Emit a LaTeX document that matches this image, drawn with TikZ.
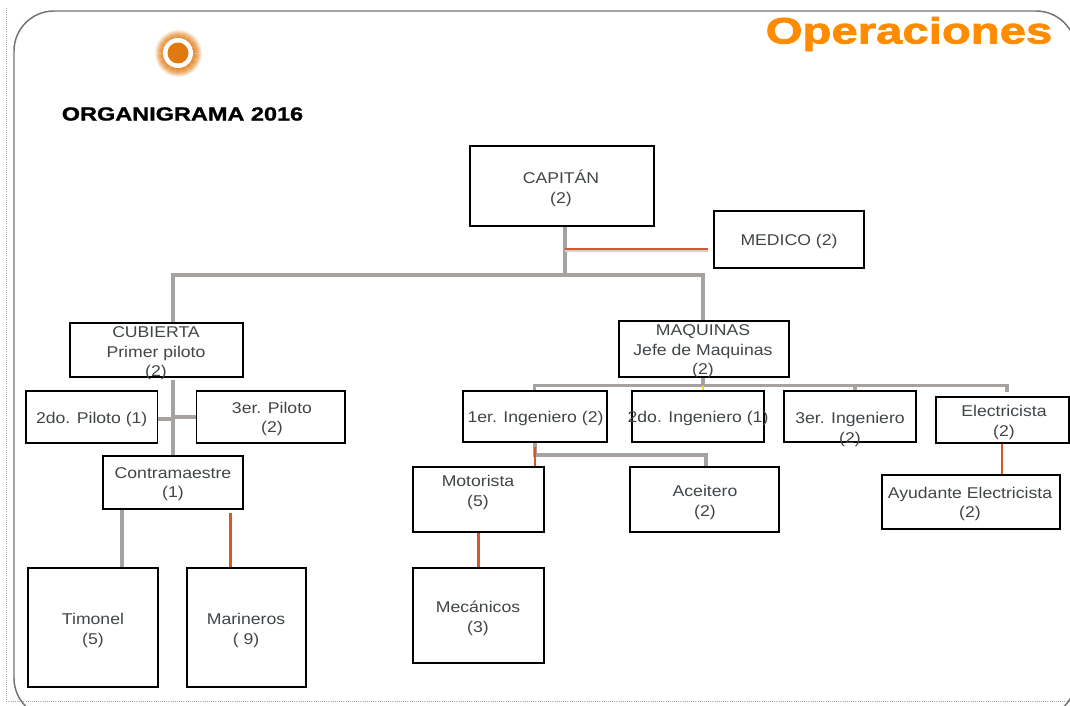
\documentclass[tikz,border=0pt]{standalone}
\usepackage{fontspec}
\usetikzlibrary{calc}
\setmainfont[FakeStretch=1.13]{Liberation Sans}
\newfontfamily\opfont[FakeStretch=1.29,FakeBold=2.2]{Liberation Sans}
\newfontfamily\orgfont[FakeStretch=1.24,FakeBold=1.2]{Liberation Sans}
\definecolor{sunor}{HTML}{E07A10}
\definecolor{opor}{HTML}{FF8C00}
\definecolor{linegray}{HTML}{A6A2A0}
\definecolor{redor}{HTML}{D9552B}
\definecolor{txtgray}{HTML}{404548}
\pgfdeclareradialshading{sunglow}{\pgfpoint{0bp}{0bp}}{color(0bp)=(sunor); color(16bp)=(sunor!85!white); color(20bp)=(sunor!62!white); color(23bp)=(sunor!25!white); color(25bp)=(white); color(50bp)=(white)}
\tikzset{
 x=0.75pt,y=-0.75pt,
 orgbox/.style={draw=black,line width=1.4pt,inner sep=0pt},
 orgtext/.style={inner sep=0pt,align=center,text=txtgray,font=\fontsize{11.7}{14.5}\selectfont},
 grayline/.style={draw=linegray,line width=3pt},
 thingray/.style={draw=linegray,line width=2.4pt},
 redline/.style={draw=redor,line width=1.6pt},
 yellowline/.style={draw=yellow!90!black,line width=1.4pt},
}
% name, x0,y0,x1,y1, text x,y, text
\newcommand{\orgnode}[8]{%
 \node[orgbox,minimum width={(#4-#2)*0.75pt},minimum height={(#5-#3)*0.75pt}] (#1) at ({(#2+#4)/2},{(#3+#5)/2}) {};
 \node[orgtext] (#1t) at (#6,{#7+1.8}) {#8};
}
\begin{document}
\begin{tikzpicture}
\path[use as bounding box] (0,0) rectangle (1070,706);
\clip (0,0) rectangle (1070,706);
% outer frame
\draw[gray!70,line width=0.6pt,densely dotted] (6,8) -- (6,701) -- (1070,701);
\draw[gray!90!black,line width=1.1pt,rounded corners=30pt] (14,11) rectangle (1076,718);
% logo
\shade[shading=sunglow] (178,53) circle (24);
\foreach \a in {0,20,...,340}{\draw[white,opacity=.22,line width=.4pt] (178,53) ++(\a:15) -- ++(\a:8);}
\fill[white] (178,53) circle (15);
\fill[sunor] (178,53) circle (10.5);
% titles
\node[inner sep=0pt,anchor=center,text=black,font=\fontsize{14.2}{16}\selectfont\orgfont\bfseries] (titulo) at (182.5,114) {ORGANIGRAMA 2016};
\node[inner sep=0pt,anchor=center,text=opor,font=\fontsize{27.5}{30}\selectfont\opfont\bfseries] (oper) at (909,34) {Operaciones};
% boxes
\orgnode{cap}{470}{146}{654}{226}{561}{186.5}{CAPITÁN\\(2)}
\orgnode{med}{714}{211}{864}{268}{789}{240}{MEDICO (2)}
\orgnode{maq}{619}{321}{789}{377}{703}{349.5}{MAQUINAS\\Jefe de Maquinas\\(2)}
\orgnode{cub}{70}{323}{243}{377}{156}{351.5}{CUBIERTA\\Primer piloto\\(2)}
\orgnode{pdos}{26}{391}{157.5}{443}{91.7}{418}{2do. Piloto (1)}
\orgnode{ptres}{196.5}{391}{345}{443}{272}{417}{3er. Piloto\\(2)}
\orgnode{con}{103}{456}{243}{509}{173}{482.5}{Contramaestre\\(1)}
\orgnode{tim}{28}{568}{158}{687}{93}{628.5}{Timonel\\(5)}
\orgnode{mar}{187}{568}{306}{687}{246}{628.5}{Marineros\\( 9)}
\orgnode{iuno}{463}{391}{607}{442}{535.5}{417}{1er. Ingeniero (2)}
\orgnode{idos}{632}{391}{764}{442}{698}{417}{2do. Ingeniero (1)}
\orgnode{itres}{784}{391}{916}{442}{850}{427.5}{3er. Ingeniero\\(2)}
\orgnode{ele}{936}{397}{1069}{443}{1004}{420.5}{Electricista\\(2)}
\orgnode{ayu}{882}{475}{1060}{529}{970}{502}{Ayudante Electricista\\(2)}
\orgnode{mot}{413}{467}{544}{532}{478}{490.5}{Motorista\\(5)}
\orgnode{ace}{630}{467}{779}{532}{705}{500.5}{Aceitero\\(2)}
\orgnode{mec}{413}{568}{544}{663}{478}{616.5}{Mecánicos\\(3)}
% junction coordinates
\coordinate (capx) at (565,275);
\coordinate (cubx) at (173,380);
\coordinate (maqx) at (703,385.5);
\coordinate (busl) at (534.5,385.5);
\coordinate (busm) at (855,385.5);
\coordinate (busr) at (1007,385.5);
\coordinate (junta) at (535,455);
\coordinate (juntb) at (706,455);
\coordinate (timx) at (122,0);
\coordinate (marx) at (230.5,513);
\coordinate (medl) at (708,249);
\coordinate (medr) at (565,249);
% gray connectors
\draw[grayline] (cap.south -| capx) -- (capx);
\draw[grayline] (cub.north -| cubx) |- (capx) -| (maq.north -| maqx);
\draw[grayline] (cubx) -- (con.north -| cubx);
\draw[thingray] (pdos.east |- 0,419) -- (cubx |- 0,419);
\draw[thingray] (ptres.west |- 0,417) -- (cubx |- 0,417);
\draw[grayline] (con.south -| timx) -- (tim.north -| timx);
\draw[thingray] (maq.south -| maqx) -- (maqx);
\draw[thingray] (iuno.north -| busl) |- (busr) -- (busr |- 0,392);
\draw[thingray] (busm) -- (itres.north -| busm);
\draw[yellowline] (maqx) -- (idos.north -| maqx);
\draw[thingray] (iuno.south -| junta) |- (juntb) -- (ace.north -| juntb);
% orange connectors
\draw[gray!35,line width=1.2pt] ($(medr)+(0,1.8)$) -- ($(medl)+(0,1.8)$);
\draw[redline] (medr) -- (medl);
\draw[redline] (junta |- 0,447) -- (mot.north -| junta);
\draw[redline] (marx) -- (mar.north -| marx);
\draw[redline] (mot.south) -- (mec.north);
\draw[redline] (ele.south -| 1002,0) -- (ayu.north -| 1002,0);
\end{tikzpicture}
\end{document}
